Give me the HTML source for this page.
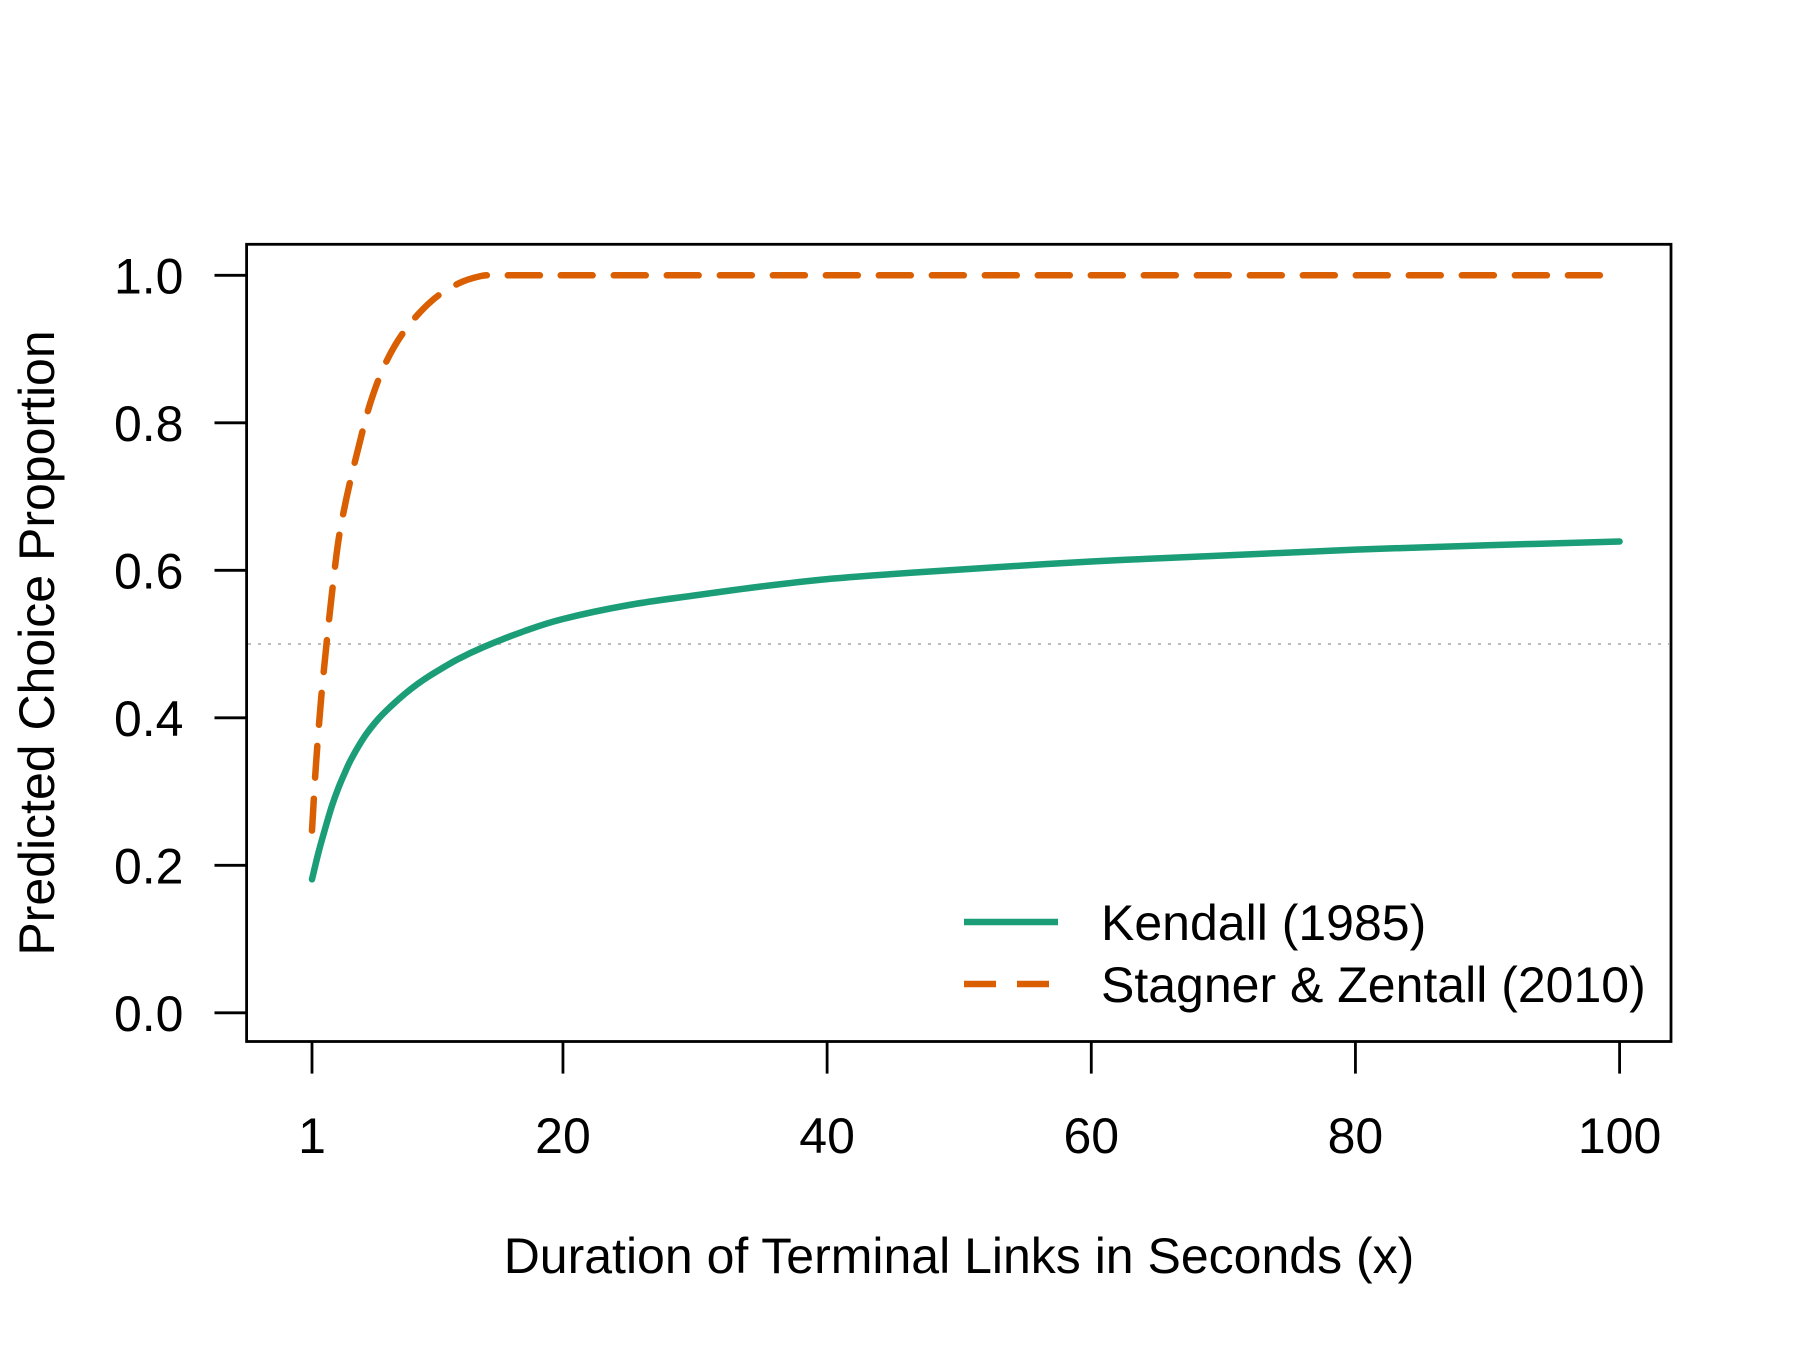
<!DOCTYPE html>
<html><head><meta charset="utf-8"><style>
html,body{margin:0;padding:0;background:#fff;}
svg{display:block;font-family:"Liberation Sans",Arial,sans-serif;}
</style></head><body>
<svg id="chart" width="1800" height="1350" viewBox="0 0 1800 1350">
<rect width="1800" height="1350" fill="#fff"/>
<g id="plot"></g>
</svg>
<script>
const yTicks = [0.0, 0.2, 0.4, 0.6, 0.8, 1.0];
const yTickLabels = ["0.0", "0.2", "0.4", "0.6", "0.8", "1.0"];
const xTicks = [1, 20, 40, 60, 80, 100];
const xTickLabels = ["1", "20", "40", "60", "80", "100"];
const kendallX = [1, 1.5, 2, 2.5, 3, 3.5, 4, 5, 6, 7, 8, 9, 10, 12, 14, 17, 20, 25, 30, 35, 40, 45, 50, 60, 70, 80, 90, 100];
const kendallY = [0.181, 0.218, 0.25, 0.28, 0.305, 0.326, 0.345, 0.375, 0.398, 0.416, 0.432, 0.446, 0.458, 0.479, 0.496, 0.517, 0.534, 0.553, 0.566, 0.578, 0.588, 0.595, 0.601, 0.612, 0.620, 0.628, 0.634, 0.639];
const stagnerX = [1, 1.3, 1.7, 2.1, 2.5, 3.0, 3.6, 4.4, 5.4, 6.6, 8.1, 10.1, 12.1, 13.8, 15, 16, 18, 20, 40, 60, 80, 100];
const stagnerY = [0.247, 0.337, 0.427, 0.5, 0.567, 0.640, 0.697, 0.758, 0.826, 0.882, 0.927, 0.966, 0.989, 0.999, 1.0, 1.0, 1.0, 1.0, 1.0, 1.0, 1.0, 1.0];
const refLine = 0.5;

const NS = "http://www.w3.org/2000/svg";
const g = document.getElementById('plot');
const X0 = 312, X1 = 1619.6, Y0 = 1012.8, Y1 = 275.3;
function sx(v){ return X0 + (v - 1) / 99 * (X1 - X0); }
function sy(v){ return Y0 + v * (Y1 - Y0); }
function mk(tag, attrs){ const e = document.createElementNS(NS, tag); for (const k in attrs) e.setAttribute(k, attrs[k]); g.appendChild(e); return e; }

let el = mk('line', {x1: 248, x2: 1669, y1: sy(refLine), y2: sy(refLine), stroke: '#bdbdbd', 'stroke-width': 2, 'stroke-dasharray': '3 7'});



function pathFrom(xs, ys){
  const p = xs.map((x, i) => [sx(x), sy(ys[i])]);
  let d = 'M' + p[0][0].toFixed(1) + ' ' + p[0][1].toFixed(1);
  for (let i = 0; i < p.length - 1; i++) {
    const p0 = p[Math.max(0, i - 1)], p1 = p[i], p2 = p[i + 1], p3 = p[Math.min(p.length - 1, i + 2)];
    const seg = p2[0] - p1[0];
    // limit tangent length so control points stay within the segment
    const t1x = Math.min((p2[0] - p0[0]) / 6, seg / 2), t2x = Math.min((p3[0] - p1[0]) / 6, seg / 2);
    const r1 = (p2[0] - p0[0]) ? t1x / ((p2[0] - p0[0]) / 6) : 1, r2 = (p3[0] - p1[0]) ? t2x / ((p3[0] - p1[0]) / 6) : 1;
    const c1 = [p1[0] + t1x, p1[1] + (p2[1] - p0[1]) / 6 * r1];
    const c2 = [p2[0] - t2x, p2[1] - (p3[1] - p1[1]) / 6 * r2];
    d += ' C' + c1.map(v => v.toFixed(1)).join(' ') + ' ' + c2.map(v => v.toFixed(1)).join(' ') + ' ' + p2[0].toFixed(1) + ' ' + p2[1].toFixed(1);
  }
  return d;
}
el = mk('path', {d: pathFrom(stagnerX, stagnerY), fill: 'none', stroke: '#D95F02', 'stroke-width': 6.5, 'stroke-dasharray': '32 21', 'stroke-linecap': 'round', 'stroke-linejoin': 'round'});


el = mk('path', {d: pathFrom(kendallX, kendallY), fill: 'none', stroke: '#1B9E77', 'stroke-width': 6.5, 'stroke-linecap': 'round', 'stroke-linejoin': 'round'});



el = mk('rect', {x: 246.6, y: 244.3, width: 1424.4, height: 797.2, fill: 'none', stroke: '#000', 'stroke-width': 2.8});



yTicks.forEach((v, i) => {
  let t = mk('line', {x1: 214.5, x2: 246.6, y1: sy(v), y2: sy(v), stroke: '#000', 'stroke-width': 2.8});
  
  
  let l = mk('text', {x: 183.5, y: sy(v) + 18, 'text-anchor': 'end', 'font-size': 50, fill: '#000'});
  l.textContent = yTickLabels[i];
  
  
});
xTicks.forEach((v, i) => {
  let t = mk('line', {x1: sx(v), x2: sx(v), y1: 1041.5, y2: 1073.6, stroke: '#000', 'stroke-width': 2.8});
  
  
  let l = mk('text', {x: sx(v), y: 1153, 'text-anchor': 'middle', 'font-size': 50, fill: '#000'});
  l.textContent = xTickLabels[i];
  
  
});
el = mk('text', {x: 959, y: 1273, 'text-anchor': 'middle', 'font-size': 50, fill: '#000'});
el.textContent = 'Duration of Terminal Links in Seconds (x)';


el = mk('text', {x: 0, y: 0, 'text-anchor': 'middle', 'font-size': 50, fill: '#000', transform: 'translate(54,643) rotate(-90)'});
el.textContent = 'Predicted Choice Proportion';



el = mk('line', {x1: 964, x2: 1058, y1: 922, y2: 922, stroke: '#1B9E77', 'stroke-width': 6.5});


el = mk('text', {x: 1101, y: 940, 'font-size': 50, fill: '#000'});
el.textContent = 'Kendall (1985)';


el = mk('line', {x1: 964, x2: 1058, y1: 984, y2: 984, stroke: '#D95F02', 'stroke-width': 6.5, 'stroke-dasharray': '32 21'});


el = mk('text', {x: 1101, y: 1002, 'font-size': 50, fill: '#000'});
el.textContent = 'Stagner & Zentall (2010)';


</script>
</body></html>
